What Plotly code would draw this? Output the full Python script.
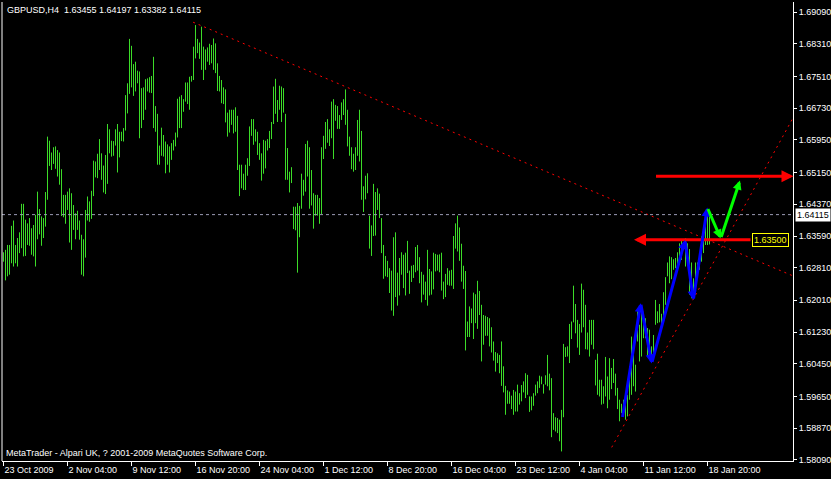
import plotly.graph_objects as go

symbol_header = "GBPUSD,H4  1.63455 1.64197 1.63382 1.64115"
footer_text = "MetaTrader - Alpari UK, ? 2001-2009 MetaQuotes Software Corp."

highs = [
1.6319,1.6325,1.6337,1.6337,1.6384,1.6397,1.6337,1.6354,1.6368,1.6438,
1.6438,1.6399,1.6390,1.6403,1.6378,1.6386,1.6411,1.6468,1.6425,1.6407,
1.6403,1.6467,1.6603,1.6593,1.6564,1.6577,1.6579,1.6570,1.6564,1.6523,
1.6460,1.6460,1.6468,1.6476,1.6464,1.6435,1.6415,1.6421,1.6397,1.6362,
1.6351,1.6423,1.6456,1.6444,1.6470,1.6544,1.6542,1.6561,1.6597,1.6562,
1.6532,1.6558,1.6634,1.6621,1.6593,1.6592,1.6621,1.6634,1.6615,1.6615,
1.6624,1.6705,1.6734,1.6843,1.6826,1.6781,1.6787,1.6765,1.6763,1.6722,
1.6724,1.6744,1.6746,1.6749,1.6752,1.6799,1.6678,1.6659,1.6581,1.6625,
1.6607,1.6591,1.6584,1.6579,1.6587,1.6595,1.6613,1.6696,1.6701,1.6705,
1.6695,1.6736,1.6736,1.6750,1.6752,1.6824,1.6877,1.6843,1.6834,1.6873,
1.6824,1.6817,1.6822,1.6831,1.6828,1.6844,1.6832,1.6783,1.6752,1.6742,
1.6724,1.6719,1.6662,1.6669,1.6669,1.6669,1.6675,1.6654,1.6534,1.6534,
1.6512,1.6534,1.6550,1.6628,1.6646,1.6646,1.6621,1.6615,1.6587,1.6562,
1.6595,1.6593,1.6597,1.6617,1.6639,1.6726,1.6745,1.6693,1.6728,1.6726,
1.6722,1.6659,1.6575,1.6517,1.6528,1.6431,1.6431,1.6440,1.6433,1.6512,
1.6497,1.6585,1.6593,1.6577,1.6521,1.6464,1.6460,1.6460,1.6452,1.6577,
1.6605,1.6639,1.6646,1.6621,1.6689,1.6695,1.6681,1.6678,1.6656,1.6687,
1.6695,1.6719,1.6669,1.6603,1.6577,1.6561,1.6577,1.6644,1.6669,1.6617,
1.6481,1.6507,1.6513,1.6409,1.6385,1.6487,1.6467,1.6476,1.6463,1.6403,
1.6337,1.6310,1.6298,1.6280,1.6274,1.6356,1.6368,1.6269,1.6305,1.6319,
1.6313,1.6318,1.6347,1.6274,1.6286,1.6288,1.6332,1.6337,1.6307,1.6271,
1.6264,1.6247,1.6325,1.6278,1.6272,1.6318,1.6315,1.6313,1.6314,1.6318,
1.6247,1.6266,1.6280,1.6274,1.6276,1.6359,1.6390,1.6409,1.6380,1.6340,
1.6286,1.6273,1.6149,1.6186,1.6181,1.6220,1.6216,1.6249,1.6224,1.6190,
1.6165,1.6163,1.6160,1.6157,1.6135,1.6100,1.6074,1.6071,1.6067,1.6100,
1.6039,1.5991,1.5980,1.5977,1.5967,1.5981,1.5977,1.5994,1.5973,1.5993,
1.6002,1.6022,1.6018,1.5965,1.5965,1.5973,1.5994,1.6002,1.6016,1.6014,
1.5995,1.6017,1.6067,1.6021,1.6010,1.5924,1.5914,1.5912,1.5908,1.5932,
1.6094,1.6086,1.6088,1.6143,1.6149,1.6237,1.6192,1.6153,1.6143,1.6242,
1.6227,1.6190,1.6122,1.6153,1.6153,1.6153,1.6055,1.6070,1.6006,1.6006,
1.5990,1.6062,1.6014,1.6059,1.6035,1.6057,1.6021,1.5986,1.5957,1.5947,
1.5957,1.5951,1.5969,1.6039,1.6112,1.6094,1.6043,1.6174,1.6141,1.6178,
1.6170,1.6157,1.6133,1.6129,1.6088,1.6116,1.6202,1.6174,1.6192,1.6168,
1.6221,1.6258,1.6294,1.6309,1.6307,1.6302,1.6305,1.6319,1.6341,1.6351,
1.6341,1.6353,1.6341,1.6327,1.6294,1.6255,1.6294,1.6294,1.6318,1.6358,
1.6382,1.6384,1.6419,1.64197]

lows = [
1.6296,1.6250,1.6260,1.6264,1.6292,1.6284,1.6292,1.6284,1.6317,1.6329,
1.6309,1.6310,1.6337,1.6335,1.6313,1.6309,1.6284,1.6351,1.6363,1.6335,
1.6354,1.6382,1.6448,1.6531,1.6521,1.6536,1.6524,1.6505,1.6485,1.6408,
1.6405,1.6389,1.6423,1.6343,1.6325,1.6374,1.6351,1.6374,1.6350,1.6264,
1.6260,1.6306,1.6397,1.6394,1.6401,1.6457,1.6503,1.6501,1.6521,1.6497,
1.6466,1.6462,1.6487,1.6562,1.6554,1.6556,1.6581,1.6515,1.6552,1.6592,
1.6591,1.6618,1.6660,1.6708,1.6724,1.6703,1.6714,1.6734,1.6599,1.6624,
1.6644,1.6669,1.6714,1.6711,1.6710,1.6624,1.6615,1.6534,1.6534,1.6556,
1.6554,1.6513,1.6534,1.6515,1.6546,1.6569,1.6579,1.6601,1.6624,1.6624,
1.6664,1.6689,1.6683,1.6669,1.6738,1.6742,1.6795,1.6808,1.6794,1.6767,
1.6742,1.6767,1.6787,1.6779,1.6783,1.6767,1.6759,1.6715,1.6714,1.6685,
1.6683,1.6638,1.6603,1.6613,1.6632,1.6611,1.6615,1.6521,1.6457,1.6476,
1.6472,1.6472,1.6507,1.6531,1.6605,1.6583,1.6591,1.6558,1.6546,1.6495,
1.6512,1.6525,1.6569,1.6575,1.6597,1.6634,1.6659,1.6639,1.6669,1.6639,
1.6662,1.6497,1.6497,1.6466,1.6489,1.6376,1.6373,1.6269,1.6356,1.6426,
1.6458,1.6468,1.6505,1.6426,1.6434,1.6377,1.6409,1.6409,1.6389,1.6413,
1.6548,1.6573,1.6588,1.6580,1.6599,1.6548,1.6642,1.6622,1.6622,1.6644,
1.6656,1.6632,1.6579,1.6556,1.6523,1.6517,1.6521,1.6556,1.6542,1.6448,
1.6418,1.6449,1.6464,1.6328,1.6310,1.6359,1.6360,1.6423,1.6403,1.6317,
1.6254,1.6260,1.6258,1.6219,1.6176,1.6163,1.6209,1.6188,1.6213,1.6264,
1.6231,1.6213,1.6268,1.6217,1.6246,1.6256,1.6270,1.6274,1.6243,1.6196,
1.6215,1.6202,1.6188,1.6213,1.6215,1.6228,1.6272,1.6274,1.6270,1.6225,
1.6204,1.6209,1.6239,1.6237,1.6237,1.6229,1.6328,1.6321,1.6298,1.6247,
1.6229,1.6078,1.6111,1.6111,1.6145,1.6106,1.6145,1.6131,1.6165,1.6051,
1.6092,1.6114,1.6114,1.6088,1.6073,1.6053,1.6026,1.6047,1.6022,1.5991,
1.5975,1.5920,1.5947,1.5947,1.5934,1.5920,1.5928,1.5928,1.5945,1.5953,
1.5975,1.5961,1.5969,1.5927,1.5931,1.5942,1.5967,1.5973,1.5986,1.5995,
1.5972,1.5994,1.5990,1.5980,1.5865,1.5883,1.5879,1.5875,1.5855,1.5830,
1.5914,1.6062,1.6063,1.6047,1.6106,1.6147,1.6120,1.6085,1.6067,1.6122,
1.6135,1.6081,1.6080,1.6063,1.6092,1.6081,1.5992,1.5969,1.5965,1.5945,
1.5947,1.5965,1.5936,1.5957,1.5983,1.5998,1.5967,1.5934,1.5904,1.5924,
1.5922,1.5908,1.5916,1.5957,1.5969,1.5990,1.5977,1.6100,1.6051,1.6063,
1.6108,1.6108,1.6063,1.6067,1.6055,1.6063,1.6141,1.6145,1.6147,1.6137,
1.6157,1.6190,1.6260,1.6243,1.6253,1.6276,1.6280,1.6276,1.6288,1.6300,
1.6325,1.6284,1.6288,1.6215,1.6206,1.6210,1.6227,1.6258,1.6276,1.6296,
1.6317,1.6337,1.6337,1.63382]

last_close = 1.64115

x_tick_bars = [0, 32, 64, 96, 128, 160, 192, 224, 256, 288, 320, 352]
x_tick_labels = ["23 Oct 2009", "2 Nov 04:00", "9 Nov 12:00", "16 Nov 20:00",
                 "24 Nov 04:00", "1 Dec 12:00", "8 Dec 20:00", "16 Dec 04:00",
                 "23 Dec 12:00", "4 Jan 04:00", "11 Jan 12:00", "18 Jan 20:00"]
y_tick_values = [1.58090, 1.58870, 1.59650, 1.60450, 1.61230, 1.62010, 1.62810,
                 1.63590, 1.64370, 1.65150, 1.65950, 1.66730, 1.67510, 1.68310, 1.69090]

# trend lines (bar index, price)
resist_x = [94.8, 394.75]
resist_y = [1.6884, 1.6261]
support_x = [304.1, 394.75]
support_y = [1.5840, 1.6649]

# horizontal arrows: (tail bar, head bar, price)
arrow_up_level = (325.5, 395.0, 1.6506)
arrow_lo_level = (374.25, 315.25, 1.6350)
level_label = "1.63500"

# zigzag wave points
blue_x = [309.4, 318.6, 324.1, 340.75, 344.9, 351.9]
blue_y = [1.5911, 1.6194, 1.6046, 1.6349, 1.6202, 1.6429]
green_x = [351.9, 358.6, 368.25]
green_y = [1.6429, 1.6353, 1.6495]

FONT = "Liberation Sans, Arial, sans-serif"
FS = 9
BAR_COLOR = "#3CDC28"

bx, by = [], []
for i, (h, l) in enumerate(zip(highs, lows)):
    bx += [i, i, None]
    by += [l, h, None]

fig = go.Figure()
fig.add_trace(go.Scatter(x=bx, y=by, mode="lines",
                         line=dict(color=BAR_COLOR, width=1), hoverinfo="skip"))
fig.add_trace(go.Scatter(x=resist_x, y=resist_y, mode="lines",
                         line=dict(color="#FF0000", width=1, dash="2px,4px"), hoverinfo="skip"))
fig.add_trace(go.Scatter(x=support_x, y=support_y, mode="lines",
                         line=dict(color="#FF0000", width=1, dash="2px,4px"), hoverinfo="skip"))

fig.add_shape(type="line", xref="paper", yref="y", x0=0, x1=1,
              y0=last_close, y1=last_close,
              line=dict(color="#9A9AB4", width=1, dash="dot"))
fig.add_shape(type="line", xref="paper", yref="paper", x0=0, x1=0, y0=0, y1=1,
              line=dict(color="white", width=1))

annotations = []

def arrow(x_tail, y_tail, x_head, y_head, color, width, size=0.8):
    annotations.append(dict(x=x_head, y=y_head, ax=x_tail, ay=y_tail,
                            xref="x", yref="y", axref="x", ayref="y",
                            text="", showarrow=True, arrowhead=2, arrowsize=size,
                            arrowwidth=width, arrowcolor=color, standoff=0, startstandoff=0))

arrow(arrow_up_level[0], arrow_up_level[2], arrow_up_level[1], arrow_up_level[2], "#FF0000", 3)
arrow(arrow_lo_level[0], arrow_lo_level[2], arrow_lo_level[1], arrow_lo_level[2], "#FF0000", 3)
for k in range(len(blue_x) - 1):
    arrow(blue_x[k], blue_y[k], blue_x[k + 1], blue_y[k + 1], "#0000FF", 3, 0.6)
for k in range(len(green_x) - 1):
    arrow(green_x[k], green_y[k], green_x[k + 1], green_y[k + 1], "#00FF00", 3, 0.6)

annotations.append(dict(x=arrow_lo_level[0], y=arrow_lo_level[2], xref="x", yref="y",
                        text=level_label, showarrow=False, xanchor="left",
                        font=dict(family=FONT, size=FS, color="#FFFF00"),
                        bgcolor="black", bordercolor="#FFFF00", borderwidth=1, borderpad=1))
annotations.append(dict(x=1, y=last_close, xref="paper", yref="y", xanchor="left",
                        xshift=2, text=f"{last_close:.5f}", showarrow=False,
                        font=dict(family=FONT, size=FS, color="black"),
                        bgcolor="white", borderpad=1))
annotations.append(dict(x=0, y=1, xref="paper", yref="paper", xanchor="left", yanchor="top",
                        xshift=3, yshift=-1, text=symbol_header, showarrow=False,
                        font=dict(family=FONT, size=FS, color="white")))
annotations.append(dict(x=0, y=0, xref="paper", yref="paper", xanchor="left", yanchor="bottom",
                        xshift=2, yshift=1, text=footer_text, showarrow=False,
                        font=dict(family=FONT, size=FS, color="white")))

fig.update_layout(
    width=831, height=479,
    margin=dict(l=2, r=38, t=2, b=18, pad=0, autoexpand=False),
    paper_bgcolor="black", plot_bgcolor="black",
    showlegend=False,
    annotations=annotations,
    xaxis=dict(range=[-0.75, 394.75], showgrid=False, zeroline=False, automargin=False,
               showline=True, linecolor="white", linewidth=1,
               ticks="outside", ticklen=4, tickcolor="white", tickangle=0,
               tickvals=x_tick_bars, ticktext=x_tick_labels,
               ticklabelposition="outside right",
               tickfont=dict(family=FONT, size=FS, color="white")),
    yaxis=dict(range=[1.58065, 1.69336], side="right", showgrid=False, zeroline=False,
               automargin=False,
               showline=True, linecolor="white", linewidth=1,
               ticks="outside", ticklen=3, tickcolor="white",
               tickvals=y_tick_values, ticktext=[f"{v:.5f}" for v in y_tick_values],
               tickfont=dict(family=FONT, size=FS, color="white")),
)

fig.write_html("out.html", config={"displayModeBar": False},
               post_script="document.body.style.margin='0';document.body.style.padding='0';"
                           "document.body.style.background='black';")
